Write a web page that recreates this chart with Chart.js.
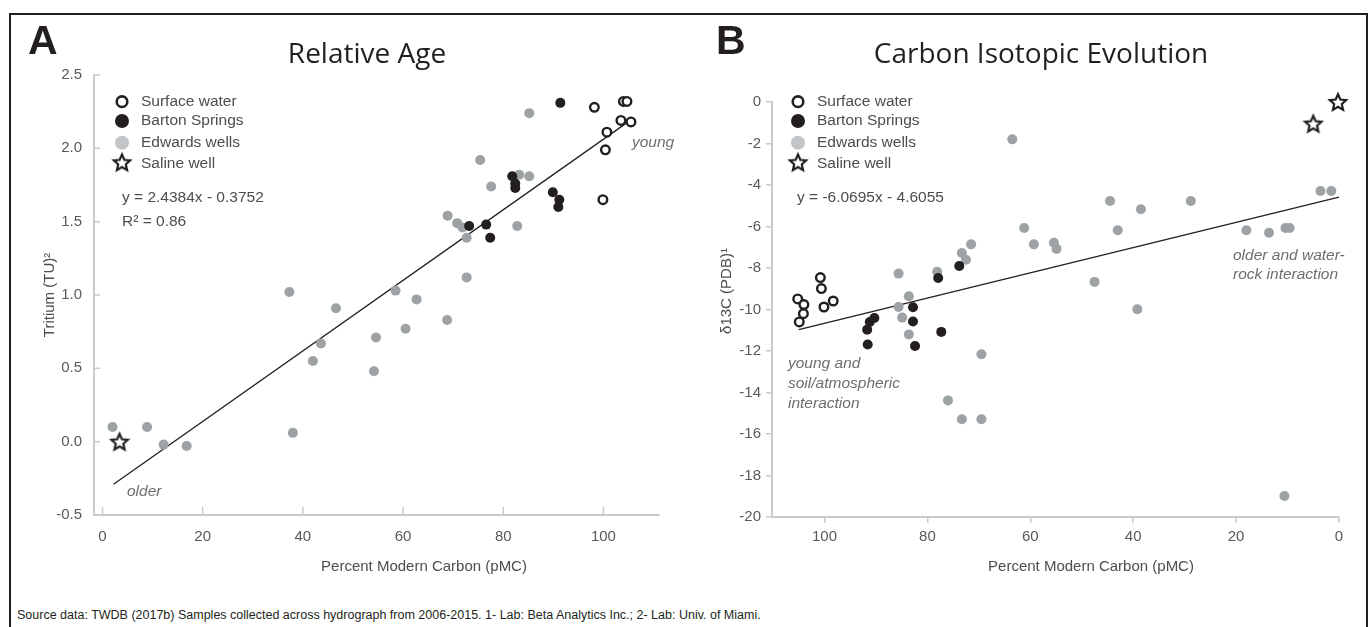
<!DOCTYPE html>
<html>
<head>
<meta charset="utf-8">
<script src="https://cdn.jsdelivr.net/npm/chart.js@4.4.1/dist/chart.umd.min.js"></script>
<style>
  body { margin: 0; background: #fff; width: 1369px; height: 627px; position: relative; overflow: hidden;
         font-family: "Liberation Sans", Arial, sans-serif; }
  .frame { position: absolute; left: 9px; top: 13px; width: 1355px; height: 620px; border: 2px solid #231f20; }
  .box { position: absolute; top: 0; height: 600px; }
  .t { position: absolute; white-space: nowrap; color: #4d4d4f; font-size: 15.5px; line-height: 1; transform: translateY(-50%); }
  .c { transform: translate(-50%, -50%); }
  .v { transform: translate(-50%, -50%) rotate(-90deg); }
  .it { font-style: italic; color: #6d6e71; }
  .title { font-family: "Open Sans", sans-serif; font-size: 28px; color: #231f20; }
  .letter { font-weight: bold; font-size: 41px; color: #231f20; }
</style>
</head>
<body>
<div class="frame"></div>
<div class="box" style="left:0;width:680px"><canvas id="chartA"></canvas></div>
<div class="box" style="left:680px;width:689px"><canvas id="chartB"></canvas></div>

<div class="t letter" style="left:28px;top:40px">A</div>
<div class="t letter" style="left:716px;top:40px">B</div>
<div class="t c title" style="left:367px;top:52px">Relative Age</div>
<div class="t c title" style="left:1041px;top:52px">Carbon Isotopic Evolution</div>

<div class="t" style="left:122px;top:197px">y = 2.4384x - 0.3752</div>
<div class="t" style="left:122px;top:221px">R² = 0.86</div>
<div class="t" style="left:797px;top:197px">y = -6.0695x - 4.6055</div>

<div class="t it" style="left:632px;top:142px">young</div>
<div class="t it" style="left:127px;top:491px">older</div>
<div class="t it" style="left:788px;top:363px">young and</div>
<div class="t it" style="left:788px;top:383px">soil/atmospheric</div>
<div class="t it" style="left:788px;top:403px">interaction</div>
<div class="t it" style="left:1233px;top:255px">older and water-</div>
<div class="t it" style="left:1233px;top:274px">rock interaction</div>

<div class="t c" style="left:424px;top:565px;font-size:15px">Percent Modern Carbon (pMC)</div>
<div class="t c" style="left:1091px;top:565px;font-size:15px">Percent Modern Carbon (pMC)</div>
<div class="t v" style="left:48px;top:295px;font-size:15px">Tritium (TU)²</div>
<div class="t v" style="left:725px;top:291px;font-size:15px">δ13C (PDB)¹</div>

<div class="t" style="left:17px;top:615px;font-size:12.5px;color:#231f20">Source data: TWDB (2017b) Samples collected across hydrograph from 2006-2015. 1- Lab: Beta Analytics Inc.; 2- Lab: Univ. of Miami.</div>

<script>
// ---- Panel A: Relative Age (pMC vs tritium) ----
const surfaceA_x = [98.2, 104.0, 104.7, 103.5, 105.5, 100.7, 100.4, 99.9];
const surfaceA_y = [2.28, 2.32, 2.32, 2.19, 2.18, 2.11, 1.99, 1.65];
const bartonA_x = [91.4, 81.8, 82.4, 82.4, 89.9, 91.2, 91.0, 73.2, 76.6, 77.4];
const bartonA_y = [2.31, 1.81, 1.76, 1.73, 1.70, 1.65, 1.60, 1.47, 1.48, 1.39];
const edwardsA_x = [37.3, 46.6, 85.2, 75.4, 83.2, 85.2, 77.6, 68.9, 70.8, 71.9, 72.7, 82.8, 72.7,
                    58.5, 62.7, 68.8, 60.5, 54.6, 43.6, 42.0, 54.2, 2.0, 8.9, 12.2, 16.8, 38.0];
const edwardsA_y = [1.02, 0.91, 2.24, 1.92, 1.82, 1.81, 1.74, 1.54, 1.49, 1.46, 1.39, 1.47, 1.12,
                    1.03, 0.97, 0.83, 0.77, 0.71, 0.67, 0.55, 0.48, 0.10, 0.10, -0.02, -0.03, 0.06];
const salineA_x = [3.4];
const salineA_y = [0.0];
const trendA_x = [2.2, 104.5];
const trendA_y = [-0.29, 2.17];
const xTicksA = [0, 20, 40, 60, 80, 100];
const yTicksA = [-0.5, 0, 0.5, 1.0, 1.5, 2.0, 2.5];

// ---- Panel B: Carbon isotopic evolution (pMC vs d13C) ----
const surfaceB_x = [105.2, 104.0, 104.1, 104.9, 100.8, 100.6, 100.1, 98.3];
const surfaceB_y = [-9.49, -9.76, -10.20, -10.60, -8.46, -8.99, -9.88, -9.59];
const bartonB_x = [91.7, 91.2, 90.3, 82.8, 82.8, 77.3, 77.9, 73.8, 91.6, 82.4];
const bartonB_y = [-10.97, -10.60, -10.41, -9.89, -10.58, -11.08, -8.48, -7.90, -11.69, -11.76];
const edwardsB_x = [85.6, 85.6, 84.9, 83.6, 83.6, 78.1, 73.3, 72.5, 71.5, 63.5, 61.2, 59.3, 55.4, 54.9,
                    44.5, 43.0, 38.5, 28.8, 47.5, 39.2, 18.0, 13.6, 10.4, 9.6, 3.6, 1.5,
                    69.5, 76.0, 73.3, 69.5, 10.6];
const edwardsB_y = [-8.27, -9.88, -10.39, -9.36, -11.20, -8.18, -7.28, -7.60, -6.86, -1.80, -6.07, -6.86, -6.78, -7.08,
                    -4.77, -6.18, -5.17, -4.77, -8.67, -9.99, -6.18, -6.30, -6.07, -6.07, -4.29, -4.29,
                    -12.16, -14.38, -15.29, -15.29, -18.99];
const salineB_x = [0.2, 5.0];
const salineB_y = [0.0, -1.04];
const trendB_x = [105.0, 0.0];
const trendB_y = [-10.97, -4.58];
const xTicksB = [0, 20, 40, 60, 80, 100];
const yTicksB = [-20, -18, -16, -14, -12, -10, -8, -6, -4, -2, 0];

const legendLabels = ["Surface water", "Barton Springs", "Edwards wells", "Saline well"];
const legendRows = [101.7, 121, 142.7, 163.3];

const INK = "#231f20";
const GREY = "#9da2a5";
const AXIS = "#c8cbce";
const TICKTXT = "#58595b";

// outlined five point star used for the saline well
const starImg = (() => {
  const c = document.createElement("canvas");
  c.width = c.height = 22;
  const g = c.getContext("2d");
  g.beginPath();
  for (let i = 0; i < 10; i++) {
    const r = i % 2 ? 4.0 : 8.6;
    const a = -Math.PI / 2 + i * Math.PI / 5;
    const x = 11 + r * Math.cos(a), y = 11.8 + r * Math.sin(a);
    i ? g.lineTo(x, y) : g.moveTo(x, y);
  }
  g.closePath();
  g.fillStyle = "#fff";
  g.fill();
  g.lineWidth = 2.2;
  g.lineJoin = "miter";
  g.strokeStyle = INK;
  g.stroke();
  return c;
})();

const pts = (xs, ys) => xs.map((x, i) => ({ x: x, y: ys[i] }));

// ticks pointing into the plot (panel A)
const innerTicks = {
  id: "innerTicks",
  afterDraw(chart, args, o) {
    if (!o.on) return;
    const { ctx, chartArea: a, scales } = chart;
    ctx.save();
    ctx.strokeStyle = AXIS;
    ctx.lineWidth = 1.5;
    ctx.beginPath();
    scales.x.ticks.forEach(t => {
      const px = scales.x.getPixelForValue(t.value);
      ctx.moveTo(px, a.bottom); ctx.lineTo(px, a.bottom - 8);
    });
    scales.y.ticks.forEach(t => {
      const py = scales.y.getPixelForValue(t.value);
      ctx.moveTo(a.left, py); ctx.lineTo(a.left + 6, py);
    });
    ctx.stroke();
    ctx.restore();
  }
};

// legend drawn inside the plot, top left
const panelLegend = {
  id: "panelLegend",
  afterDraw(chart, args, o) {
    const ctx = chart.ctx;
    ctx.save();
    legendLabels.forEach((lab, i) => {
      const y = legendRows[i];
      ctx.beginPath();
      if (i === 0) {
        ctx.arc(o.mx, y, 5.3, 0, Math.PI * 2);
        ctx.fillStyle = "#fff"; ctx.fill();
        ctx.lineWidth = 2.6; ctx.strokeStyle = INK; ctx.stroke();
      } else if (i === 1) {
        ctx.arc(o.mx, y, 7, 0, Math.PI * 2);
        ctx.fillStyle = INK; ctx.fill();
      } else if (i === 2) {
        ctx.arc(o.mx, y, 7, 0, Math.PI * 2);
        ctx.fillStyle = "#c2c5c7"; ctx.fill();
      } else {
        ctx.drawImage(starImg, o.mx - 11, y - 12);
      }
      ctx.font = '15.5px "Liberation Sans", Arial, sans-serif';
      ctx.fillStyle = "#4d4d4f";
      ctx.textBaseline = "middle";
      ctx.fillText(lab, o.tx, y);
    });
    ctx.restore();
  }
};

function makeChart(id, d) {
  return new Chart(document.getElementById(id), {
    type: "scatter",
    data: {
      datasets: [
        { label: legendLabels[0], data: d.surface, pointRadius: 4.3, pointHoverRadius: 4.3,
          pointBorderWidth: 2.4, pointBorderColor: INK, pointBackgroundColor: "#fff", clip: false },
        { label: legendLabels[1], data: d.barton, pointRadius: 5, pointHoverRadius: 5,
          pointBorderWidth: 0, pointBackgroundColor: INK, clip: false },
        { label: legendLabels[2], data: d.edwards, pointRadius: 5, pointHoverRadius: 5,
          pointBorderWidth: 0, pointBackgroundColor: GREY, clip: false },
        { label: legendLabels[3], data: d.saline, pointStyle: starImg, clip: false },
        { type: "line", label: "trend", data: d.trend, showLine: true, borderColor: INK,
          borderWidth: 1.3, pointRadius: 0, fill: false, clip: false }
      ]
    },
    options: {
      responsive: true,
      maintainAspectRatio: false,
      animation: false,
      events: [],
      layout: { padding: d.padding },
      plugins: {
        legend: { display: false },
        tooltip: { enabled: false },
        innerTicks: { on: d.inner },
        panelLegend: d.legend
      },
      scales: {
        x: {
          type: "linear",
          min: d.xRange[0], max: d.xRange[1],
          reverse: d.reverse,
          afterBuildTicks: s => { s.ticks = d.xTicks.map(v => ({ value: v })); },
          afterFit: s => { s.height = 40; },
          border: { display: true, color: AXIS, width: 2 },
          grid: { display: !d.inner, drawOnChartArea: false, color: AXIS, lineWidth: 1.5, tickLength: 6 },
          ticks: { color: TICKTXT, font: { family: '"Liberation Sans", Arial', size: 15 },
                   padding: d.inner ? 7 : 5, maxRotation: 0 }
        },
        y: {
          type: "linear",
          min: d.yRange[0], max: d.yRange[1],
          afterBuildTicks: s => { s.ticks = d.yTicks.map(v => ({ value: v })); },
          afterFit: s => { s.width = d.yWidth; },
          border: { display: true, color: AXIS, width: 2 },
          grid: { display: !d.inner, drawOnChartArea: false, color: AXIS, lineWidth: 1.5, tickLength: 6 },
          ticks: { color: TICKTXT, font: { family: '"Liberation Sans", Arial', size: 15 },
                   padding: d.inner ? 6 : 5, callback: d.yFmt }
        }
      }
    },
    plugins: [innerTicks, panelLegend]
  });
}

makeChart("chartA", {
  surface: pts(surfaceA_x, surfaceA_y),
  barton: pts(bartonA_x, bartonA_y),
  edwards: pts(edwardsA_x, edwardsA_y),
  saline: pts(salineA_x, salineA_y),
  trend: pts(trendA_x, trendA_y),
  xTicks: xTicksA, yTicks: yTicksA,
  xRange: [-1.7, 111.1], yRange: [-0.5, 2.5],
  reverse: false, inner: true,
  yWidth: 94,
  padding: { left: 0, top: 75, right: 21, bottom: 45 },
  yFmt: v => v.toFixed(1),
  legend: { mx: 122, tx: 141 }
});

makeChart("chartB", {
  surface: pts(surfaceB_x, surfaceB_y),
  barton: pts(bartonB_x, bartonB_y),
  edwards: pts(edwardsB_x, edwardsB_y),
  saline: pts(salineB_x, salineB_y),
  trend: pts(trendB_x, trendB_y),
  xTicks: xTicksB, yTicks: yTicksB,
  xRange: [0, 110.2], yRange: [-20, 0],
  reverse: true, inner: false,
  yWidth: 92,
  padding: { left: 0, top: 102, right: 30, bottom: 43 },
  yFmt: v => String(v),
  legend: { mx: 118, tx: 137 }
});
</script>
</body>
</html>
